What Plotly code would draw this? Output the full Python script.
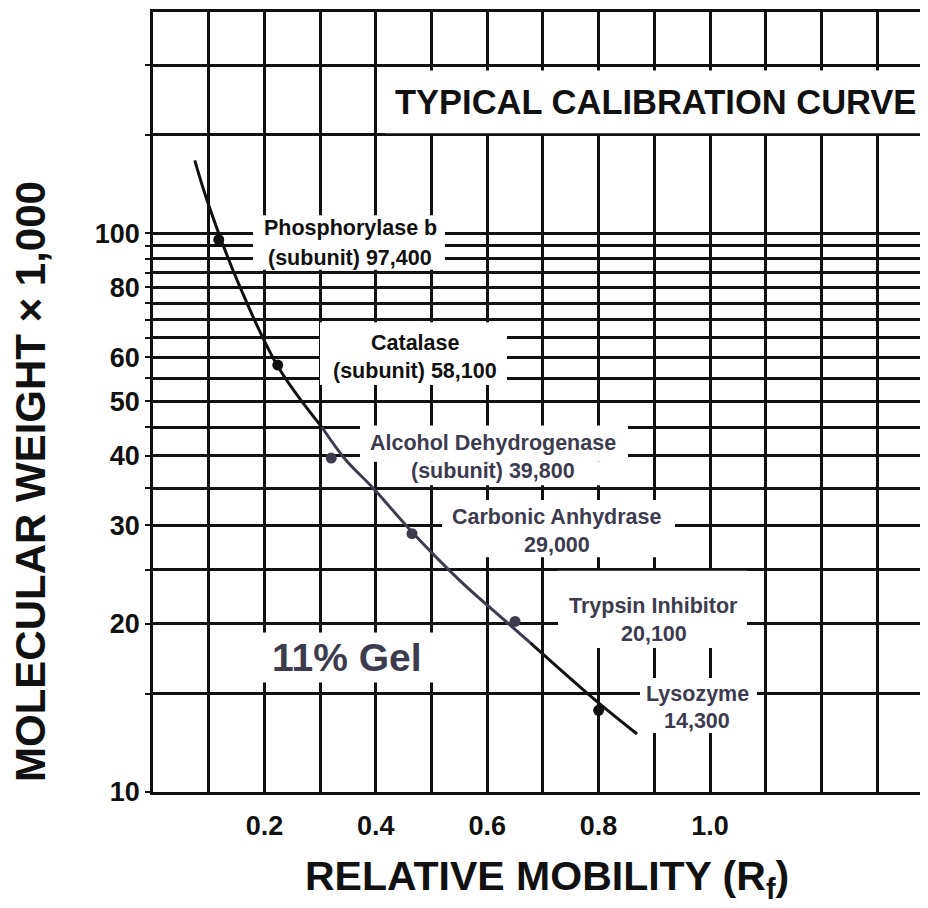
import math
import plotly.graph_objects as go

# ---- data ----
proteins = ["Phosphorylase b", "Catalase", "Alcohol Dehydrogenase",
            "Carbonic Anhydrase", "Trypsin Inhibitor", "Lysozyme"]
label_line1 = ["Phosphorylase b", "Catalase", "Alcohol Dehydrogenase",
               "Carbonic Anhydrase", "Trypsin Inhibitor", "Lysozyme"]
label_line2 = ["(subunit) 97,400", "(subunit) 58,100", "(subunit) 39,800",
               "29,000", "20,100", "14,300"]
rf = [0.118, 0.224, 0.320, 0.465, 0.650, 0.800]
mw = [97.4, 58.1, 39.6, 29.0, 20.2, 14.0]

# hand-drawn calibration curve
curve_rf = [0.075, 0.097, 0.151, 0.224, 0.303, 0.345, 0.395, 0.465, 0.551, 0.636, 0.677, 0.794, 0.869]
curve_mw = [135, 114.6, 82.4, 57.8, 45.0, 39.4, 35.0, 29.2, 23.9, 20.1, 18.5, 14.6, 12.7]

x_grid = [0.0, 0.1, 0.2, 0.3, 0.4, 0.5, 0.6, 0.7, 0.8, 0.9, 1.0, 1.1, 1.2, 1.3]
x_labels = ["", "", "0.2", "", "0.4", "", "0.6", "", "0.8", "", "1.0", "", "", ""]
y_grid = [10, 15, 20, 25, 30, 35, 40, 45, 50, 55, 60, 65, 70, 75, 80, 85, 90, 95, 100, 150, 200]
y_labels = ["10", "", "20", "", "30", "", "40", "", "50", "", "60", "", "", "", "80", "", "", "", "100", "", ""]

# label placement: centre Rf, MW of first and second text line
label_x = [0.354, 0.470, 0.610, 0.725, 0.899, 0.977]
label_y1 = [102.0, 63.6, 42.1, 31.0, 21.5, 15.0]
label_y2 = [90.2, 56.6, 37.5, 27.7, 19.2, 13.4]

# white label boxes that interrupt the graph paper: (x0, x1, MW top, MW bottom)
box_x0 = [0.4165, 0.1795, 0.2998, 0.3716, 0.410, 0.5189, 0.7271, 0.8743, 0.1113]
box_x1 = [1.40, 0.5242, 0.6355, 0.8528, 0.8528, 0.9372, 1.0664, 1.0844, 0.5961]
box_top = [195.6, 107.7, 69.3, 45.3, 39.0, 33.3, 24.9, 16.0, 19.3]
box_bot = [151.0, 86.0, 53.5, 39.0, 35.4, 26.3, 18.1, 12.75, 15.7]

BLACK = "#111111"
SLATE = "#3c3c4e"
FONT = "Liberation Sans"
label_colors = [BLACK, BLACK, SLATE, SLATE, SLATE, SLATE]
dot_colors = [BLACK, BLACK, SLATE, SLATE, SLATE, BLACK]

fig = go.Figure()

for x0, x1, yt, yb in zip(box_x0, box_x1, box_top, box_bot):
    fig.add_shape(type="rect", xref="x", yref="y", x0=x0, x1=x1,
                  y0=yb, y1=yt,
                  fillcolor="white", line=dict(width=0), layer="between")

# curve split into segments (scan shows upper part black, middle greyish)
segs = [(0, 5, BLACK), (4, 11, SLATE), (10, 13, BLACK)]
for a, b, c in segs:
    fig.add_trace(go.Scatter(x=curve_rf[a:b], y=curve_mw[a:b], mode="lines",
                             line=dict(color=c, width=3, shape="spline"),
                             hoverinfo="skip"))

fig.add_trace(go.Scatter(x=rf, y=mw, mode="markers", text=proteins,
                         marker=dict(color=dot_colors, size=11)))

for i in range(len(proteins)):
    for txt, yy in ((label_line1[i], label_y1[i]), (label_line2[i], label_y2[i])):
        fig.add_annotation(x=label_x[i], y=math.log10(yy), yref="y", xref="x",
                           text="<b>" + txt + "</b>", showarrow=False,
                           xanchor="center", yanchor="middle",
                           font=dict(family=FONT, size=21.5, color=label_colors[i]))

# title
fig.add_annotation(x=0.903, y=math.log10(171.5), xref="x", yref="y",
                   text="<b>TYPICAL CALIBRATION CURVE</b>", showarrow=False,
                   xanchor="center", yanchor="middle",
                   font=dict(family=FONT, size=34.5, color=BLACK))

# gel label
fig.add_annotation(x=0.348, y=math.log10(17.4), xref="x", yref="y",
                   text="<b>11% Gel</b>", showarrow=False,
                   xanchor="center", yanchor="middle",
                   font=dict(family=FONT, size=39, color=SLATE))

# axis titles
fig.add_annotation(x=-0.1604, y=0.3987, xref="paper", yref="paper",
                   text="<b>MOLECULAR WEIGHT × 1,000</b>", showarrow=False,
                   xanchor="center", yanchor="middle",
                   textangle=-90, font=dict(family=FONT, size=42, color=BLACK))
fig.add_annotation(x=0.514, y=-0.112, xref="paper", yref="paper",
                   text="<b>RELATIVE MOBILITY (R<sub>f</sub>)</b>", showarrow=False,
                   xanchor="center", yanchor="middle",
                   font=dict(family=FONT, size=41, color=BLACK))

fig.update_layout(
    width=912, height=892,
    margin=dict(l=145, r=0, t=4, b=108, autoexpand=False),
    plot_bgcolor="white", paper_bgcolor="white",
    showlegend=False,
    font=dict(family=FONT),
)
fig.update_xaxes(range=[0, 1.377], tickvals=x_grid,
                 ticktext=["<b>" + t + "</b>" if t else "" for t in x_labels],
                 showgrid=True, gridcolor=BLACK, gridwidth=2.5,
                 showline=True, linecolor=BLACK, linewidth=2.5, mirror=True,
                 zeroline=False, ticks="", ticklabelstandoff=8, automargin=False,
                 tickfont=dict(family=FONT, size=27, color=BLACK))
fig.update_yaxes(type="log", range=[1, 2.396], tickvals=y_grid,
                 ticktext=["<b>" + t + "</b>" if t else "" for t in y_labels],
                 showgrid=True, gridcolor=BLACK, gridwidth=2.5,
                 showline=True, linecolor=BLACK, linewidth=2.5, automargin=False,
                 zeroline=False, ticks="outside", ticklen=5, tickwidth=2, tickcolor=BLACK,
                 tickfont=dict(family=FONT, size=27, color=BLACK))

fig.write_html("out.html", config={"responsive": False})
